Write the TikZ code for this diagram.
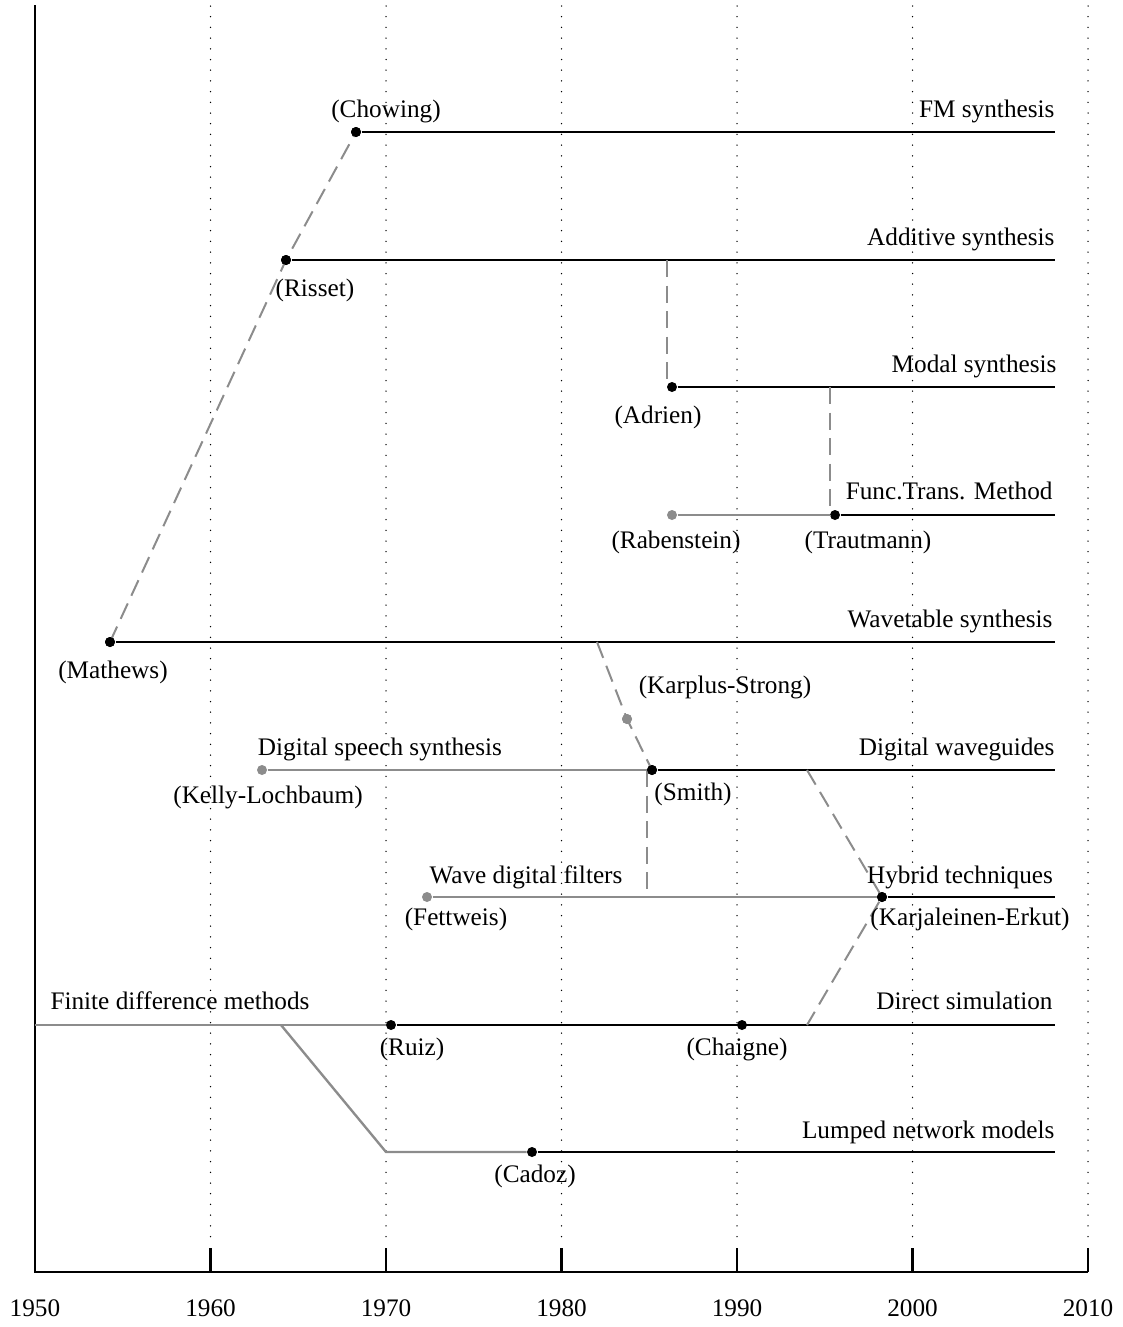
\documentclass[tikz,border=0pt]{standalone}
\usepackage{fontspec}
\setmainfont{Liberation Serif}
\begin{document}
\begin{tikzpicture}[x=0.4pt,y=-0.4pt,
  lbl/.style={inner sep=0pt,text height=1.7ex,text depth=0.5ex,font=\fontsize{10.1pt}{12pt}\selectfont},
  rlbl/.style={lbl,anchor=east},
  dot/.style={circle,fill=black,inner sep=0pt,minimum size=4pt},
  gdot/.style={dot,fill=black!45},
  main/.style={line width=1pt,black},
  pre/.style={line width=0.95pt,black!45},
  link/.style={line width=0.8pt,black!45,dash pattern=on 6.8pt off 3.4pt},
  grid/.style={line width=0.6pt,line cap=round,dash pattern=on 0pt off 4.28pt},
  axis/.style={line width=0.9pt,black}]
\useasboundingbox (0,0) rectangle (1122,1327);

% ---- axes and decade grid ----
\foreach \yr/\xx in {1960/210.5,1970/386,1980/561.5,1990/737,2000/912.5,2010/1088}{
  \draw[grid] (\xx,6) -- (\xx,1246);
  \draw[axis] (\xx,1248) -- (\xx,1272);
}
\draw[axis] (35,5) -- (35,1272) -- (1088,1272);
\foreach \yr/\xx in {1950/35,1960/210.5,1970/386,1980/561.5,1990/737,2000/912.5,2010/1088}
  \node[lbl] (yr\yr) at (\xx,1310) {\yr};

% ---- event dots ----
\node[dot]  (chowing)  at (356,132) {};
\node[dot]  (risset)   at (286,260) {};
\node[dot]  (adrien)   at (672,387) {};
\node[gdot] (raben)    at (672,515) {};
\node[dot]  (traut)    at (835,515) {};
\node[dot]  (mathews)  at (110,642) {};
\node[gdot] (karplus)  at (627,719) {};
\node[gdot] (kelly)    at (262,770) {};
\node[dot]  (smith)    at (652,770) {};
\node[gdot] (fettweis) at (427,897) {};
\node[dot]  (karj)     at (882,897) {};
\node[dot]  (ruiz)     at (391,1025) {};
\node[dot]  (chaigne)  at (742,1025) {};
\node[dot]  (cadoz)    at (532,1152) {};

% ---- line ends and branch points ----
\coordinate (fmE)   at (1055,132);
\coordinate (addE)  at (1055,260);
\coordinate (modE)  at (1055,387);
\coordinate (ftmE)  at (1055,515);
\coordinate (wtE)   at (1055,642);
\coordinate (dwE)   at (1055,770);
\coordinate (htE)   at (1055,897);
\coordinate (dsE)   at (1055,1025);
\coordinate (lnE)   at (1055,1152);
\coordinate (fdS)   at (35,1025);
\coordinate (fdB)   at (281,1025);
\coordinate (lnB)   at (386,1152);
\coordinate (addB)  at (667,260);
\coordinate (addF)  at (667,387);
\coordinate (modB)  at (830,387);
\coordinate (modF)  at (830,515);
\coordinate (wtB)   at (597,642);
\coordinate (smB)   at (647,770);
\coordinate (smF)   at (647,897);
\coordinate (dwB)   at (807,770);
\coordinate (dsB)   at (807,1025);

% ---- family lines ----
\draw[main] (chowing) -- (fmE);
\draw[main] (risset) -- (addE);
\draw[main] (adrien) -- (modE);
\draw[pre]  (raben) -- (traut);
\draw[main] (traut) -- (ftmE);
\draw[main] (mathews) -- (wtE);
\draw[pre]  (kelly) -- (smith);
\draw[main] (smith) -- (dwE);
\draw[pre]  (fettweis) -- (karj);
\draw[main] (karj) -- (htE);
\draw[pre]  (fdS) -- (ruiz);
\draw[main] (ruiz) -- (dsE);
\draw[pre]  (fdB) -- (lnB) -- (cadoz);
\draw[main] (cadoz) -- (lnE);

% ---- influences ----
\draw[link] (mathews.center) -- (risset.center) -- (chowing.center);
\draw[link] (addB) -- (addF);
\draw[link] (modB) -- (modF);
\draw[link] (wtB) -- (karplus.center) -- (smith.center);
\draw[link] (smB) -- (smF);
\draw[link] (dwB) -- (karj.center) -- (dsB);

% redraw dots above the links
\foreach \n in {chowing,risset,mathews,smith,karj}{\node[dot] at (\n) {};}
\node[gdot] at (karplus) {};

% ---- labels ----
\node[lbl]  (lChowing) at (386,111) {(Chowing)};
\node[rlbl] (lFM)      at (1055,111) {FM synthesis};
\node[rlbl] (lAdd)     at (1055,239) {Additive synthesis};
\node[lbl]  (lRisset)  at (315,290) {(Risset)};
\node[rlbl] (lModal)   at (1057,366) {Modal synthesis};
\node[lbl]  (lAdrien)  at (658,417) {(Adrien)};
\node[rlbl] (lFTM)     at (1053,493) {Func.Trans. Method};
\node[lbl]  (lRaben)   at (676,542) {(Rabenstein)};
\node[lbl]  (lTraut)   at (868,542) {(Trautmann)};
\node[rlbl] (lWT)      at (1053,621) {Wavetable synthesis};
\node[lbl]  (lMathews) at (113,672) {(Mathews)};
\node[lbl]  (lKS)      at (725,687) {(Karplus-Strong)};
\node[lbl]  (lDSS)     at (380,749) {Digital speech synthesis};
\node[rlbl] (lDW)      at (1055,749) {Digital waveguides};
\node[lbl]  (lKelly)   at (268,797) {(Kelly-Lochbaum)};
\node[lbl]  (lSmith)   at (693,794) {(Smith)};
\node[lbl]  (lWDF)     at (526,877) {Wave digital filters};
\node[lbl]  (lHT)      at (960,877) {Hybrid techniques};
\node[lbl]  (lFett)    at (456,919) {(Fettweis)};
\node[lbl]  (lKarj)    at (970,919) {(Karjaleinen-Erkut)};
\node[lbl]  (lFD)      at (180,1003) {Finite difference methods};
\node[rlbl] (lDS)      at (1053,1003) {Direct simulation};
\node[lbl]  (lRuiz)    at (412,1049) {(Ruiz)};
\node[lbl]  (lChaigne) at (737,1049) {(Chaigne)};
\node[rlbl] (lLN)      at (1055,1132) {Lumped network models};
\node[lbl]  (lCadoz)   at (535,1176) {(Cadoz)};
\end{tikzpicture}
\end{document}
